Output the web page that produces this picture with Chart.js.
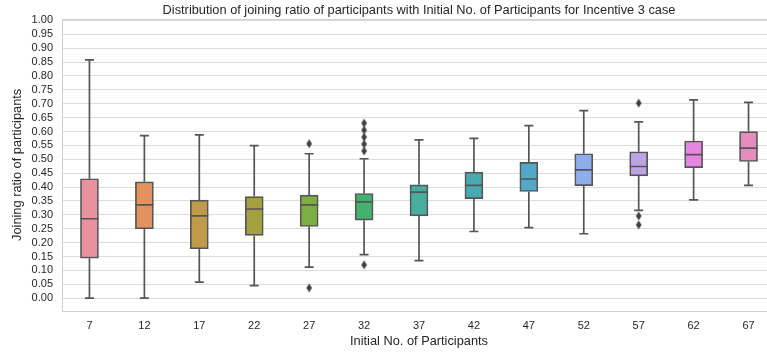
<!DOCTYPE html>
<html>
<head>
<meta charset="utf-8">
<script src="https://cdn.jsdelivr.net/npm/chart.js@4/dist/chart.umd.min.js"></script>
<style>
  html, body { margin: 0; padding: 0; background: #fff; overflow: hidden; }
  /* the original plot runs past the right edge of the picture */
  #wrap { width: 781px; height: 354px; position: relative; }
</style>
</head>
<body>
<div id="wrap"><canvas id="chart"></canvas></div>
<script>
// ─── Data ─────────────────────────────────────────────────────────────────────
const categories = ['7', '12', '17', '22', '27', '32', '37', '42', '47', '52', '57', '62', '67'];
const whiskerLow = [0.000, 0.000, 0.058, 0.045, 0.112, 0.157, 0.135, 0.240, 0.254, 0.232, 0.316, 0.354, 0.406];
const q1 = [0.144, 0.250, 0.178, 0.226, 0.258, 0.281, 0.296, 0.358, 0.384, 0.405, 0.440, 0.470, 0.492];
const medians = [0.286, 0.336, 0.296, 0.321, 0.336, 0.347, 0.382, 0.406, 0.429, 0.462, 0.474, 0.517, 0.540];
const q3 = [0.430, 0.419, 0.353, 0.366, 0.371, 0.377, 0.408, 0.454, 0.489, 0.520, 0.527, 0.566, 0.600];
const whiskerHigh = [0.858, 0.585, 0.588, 0.549, 0.520, 0.502, 0.570, 0.575, 0.621, 0.675, 0.635, 0.714, 0.705];
const outlierCat = ['27', '27', '32', '32', '32', '32', '32', '32', '57', '57', '57'];
const outlierVal = [0.037, 0.556, 0.120, 0.530, 0.555, 0.580, 0.605, 0.630, 0.296, 0.264, 0.702];
const yTicks = [0, 0.05, 0.1, 0.15, 0.2, 0.25, 0.3, 0.35, 0.4, 0.45, 0.5, 0.55, 0.6, 0.65, 0.7, 0.75, 0.8, 0.85, 0.9, 0.95, 1.0];
const boxColors = ['#e8919f', '#e3915f', '#bf9a48', '#a3a13f', '#7caf43', '#46b06f', '#47ad9c', '#49aab1',
  '#50a9c9', '#8eaeeb', '#bea3e7', '#e786e0', '#e58dbd'];

const LINE = '#555555';
const FONT = '"Liberation Sans", Arial, sans-serif';

// thin diamond used by seaborn fliers
function diamondMarker() {
  const c = document.createElement('canvas'); c.width = 7; c.height = 10;
  const g = c.getContext('2d');
  g.fillStyle = '#404040';
  g.beginPath(); g.moveTo(3.5, 0.5); g.lineTo(6.3, 5); g.lineTo(3.5, 9.5); g.lineTo(0.7, 5); g.closePath(); g.fill();
  return c;
}

// whiskers, caps, medians, frame and title – all placed through the scales
const boxExtras = {
  id: 'boxExtras',
  afterDatasetsDraw(chart) {
    const { ctx, scales: { x, y } } = chart;
    ctx.save();
    ctx.strokeStyle = LINE; ctx.lineWidth = 1.7;
    categories.forEach((c, i) => {
      const cx = x.getPixelForValue(i);
      const half = 9, cap = 4.5;
      ctx.beginPath();
      ctx.moveTo(cx, y.getPixelForValue(q3[i])); ctx.lineTo(cx, y.getPixelForValue(whiskerHigh[i]));
      ctx.moveTo(cx, y.getPixelForValue(q1[i])); ctx.lineTo(cx, y.getPixelForValue(whiskerLow[i]));
      ctx.moveTo(cx - cap, y.getPixelForValue(whiskerHigh[i])); ctx.lineTo(cx + cap, y.getPixelForValue(whiskerHigh[i]));
      ctx.moveTo(cx - cap, y.getPixelForValue(whiskerLow[i])); ctx.lineTo(cx + cap, y.getPixelForValue(whiskerLow[i]));
      ctx.moveTo(cx - half, y.getPixelForValue(medians[i])); ctx.lineTo(cx + half, y.getPixelForValue(medians[i]));
      ctx.stroke();
    });
    ctx.restore();
  },
  afterDraw(chart) {
    const { ctx, chartArea: a, scales: { x } } = chart;
    ctx.save();
    ctx.strokeStyle = '#d0d0d0'; ctx.lineWidth = 1;
    ctx.strokeRect(Math.round(a.left) + 0.5, Math.round(a.top) + 0.5, a.right - a.left, Math.round(a.bottom - a.top));
    ctx.fillStyle = '#262626';
    ctx.font = '12.8px ' + FONT;
    ctx.textAlign = 'center'; ctx.textBaseline = 'middle';
    const mid = (x.getPixelForValue(0) + x.getPixelForValue(categories.length - 1)) / 2;
    ctx.fillText('Distribution of joining ratio of participants with Initial No. of Participants for Incentive 3 case', mid, 10);
    ctx.restore();
  },
};

new Chart(document.getElementById('chart'), {
  type: 'bar',
  data: {
    labels: categories,
    datasets: [{
      label: 'box',
      data: categories.map((c, i) => [q1[i], q3[i]]),
      backgroundColor: boxColors,
      borderColor: LINE,
      borderWidth: 1.7,
      borderSkipped: false,
      barThickness: 18,
      order: 2,
    }, {
      type: 'scatter',
      label: 'outliers',
      data: outlierCat.map((c, i) => ({ x: c, y: outlierVal[i] })),
      pointStyle: diamondMarker(),
      order: 1,
    }],
  },
  options: {
    responsive: true,
    maintainAspectRatio: false,
    animation: false,
    layout: { padding: { top: 19, right: 0, bottom: 1, left: 0 } },
    plugins: { legend: { display: false }, tooltip: { enabled: false }, title: { display: false } },
    scales: {
      x: {
        type: 'category',
        offset: true,
        grid: { display: false, drawTicks: false },
        border: { display: false },
        ticks: { color: '#262626', font: { family: FONT, size: 11 }, padding: 9 },
        title: { display: true, text: 'Initial No. of Participants', color: '#262626', font: { family: FONT, size: 12.8 }, padding: { top: 2, bottom: 4 } },
        afterFit: (s) => { s.height = 42.3; },
      },
      y: {
        min: -0.045,
        max: 1.005,
        afterBuildTicks: (s) => { s.ticks = yTicks.map((v) => ({ value: v })); },
        grid: { color: '#dcdcdc', lineWidth: 1, drawTicks: false },
        border: { display: false },
        ticks: { autoSkip: false, color: '#262626', font: { family: FONT, size: 11 }, padding: 9, callback: (v) => Number(v).toFixed(2) },
        title: { display: true, text: 'Joining ratio of participants', color: '#262626', font: { family: FONT, size: 12.8 }, padding: { top: 10, bottom: 0 } },
        afterFit: (s) => { s.width = 62; },
      },
    },
  },
  plugins: [boxExtras],
});
</script>
</body>
</html>
